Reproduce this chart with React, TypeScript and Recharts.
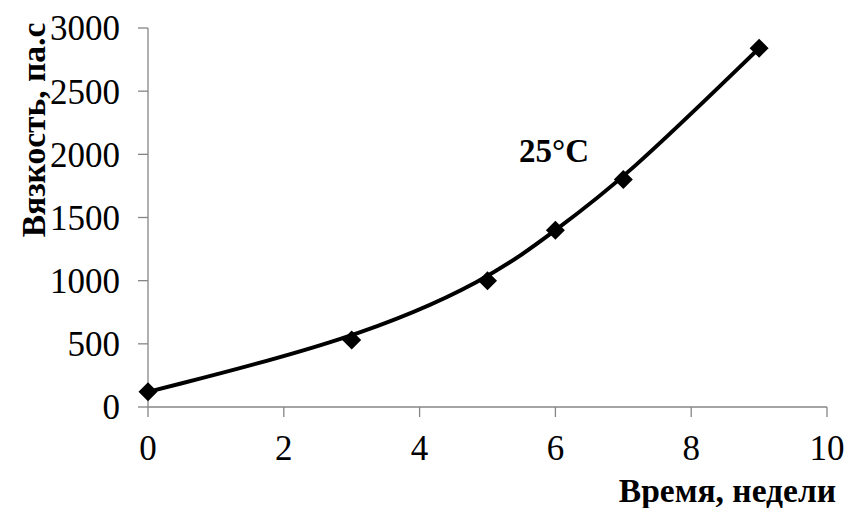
import { LineChart, Line, XAxis, YAxis } from "recharts";

const weeks = [0, 3, 5, 6, 7, 9];
const viscosity = [120, 530, 1000, 1400, 1800, 2840];
const xTicks = [0, 2, 4, 6, 8, 10];
const yTicks = [0, 500, 1000, 1500, 2000, 2500, 3000];

const data = weeks.map((w, i) => ({ week: w, value: viscosity[i] }));

const axisColor = "#868686";
const font = "'Liberation Serif', 'Times New Roman', serif";

function Diamond(props: { cx?: number; cy?: number; index?: number }) {
  const { cx, cy } = props;
  if (cx == null || cy == null) return null;
  const r = 9.5;
  return (
    <path
      key={props.index}
      d={`M${cx},${cy - r} L${cx + r},${cy} L${cx},${cy + r} L${cx - r},${cy} Z`}
      fill="#000"
    />
  );
}

export default function App() {
  return (
    <div style={{ position: "absolute", left: 0, top: 0, background: "#fff" }}>
      <LineChart
        width={846}
        height={508}
        data={data}
        margin={{ top: 28, right: 19, bottom: 0, left: 0 }}
      >
        <XAxis
          dataKey="week"
          type="number"
          domain={[0, 10]}
          ticks={xTicks}
          stroke={axisColor}
          strokeWidth={1.3}
          tickSize={10}
          tickMargin={18}
          height={101}
          tick={{ fill: "#000", fontSize: 35, fontFamily: font }}
        />
        <YAxis
          type="number"
          domain={[0, 3000]}
          ticks={yTicks}
          stroke={axisColor}
          strokeWidth={1.3}
          tickSize={10}
          tickMargin={18}
          width={148}
          tick={{ fill: "#000", fontSize: 35, fontFamily: font }}
        />
        {/* smooth trend-style curve through the measured points */}
        <Line
          dataKey="value"
          type="basis"
          stroke="#000"
          strokeWidth={4}
          dot={false}
          activeDot={false}
          isAnimationActive={false}
        />
        <Line
          dataKey="value"
          stroke="none"
          dot={<Diamond />}
          activeDot={false}
          isAnimationActive={false}
        />
        <text
          x={836}
          y={502}
          textAnchor="end"
          fontFamily={font}
          fontWeight="bold"
          fontSize={33.5}
          fill="#000"
        >
          Время, недели
        </text>
        <text
          x={45}
          y={130}
          transform="rotate(-90 45 130)"
          textAnchor="middle"
          fontFamily={font}
          fontWeight="bold"
          fontSize={33.5}
          fill="#000"
        >
          Вязкость, па.с
        </text>
        <text
          x={519}
          y={162}
          fontFamily={font}
          fontWeight="bold"
          fontSize={33}
          fill="#000"
        >
          25°C
        </text>
      </LineChart>
    </div>
  );
}
